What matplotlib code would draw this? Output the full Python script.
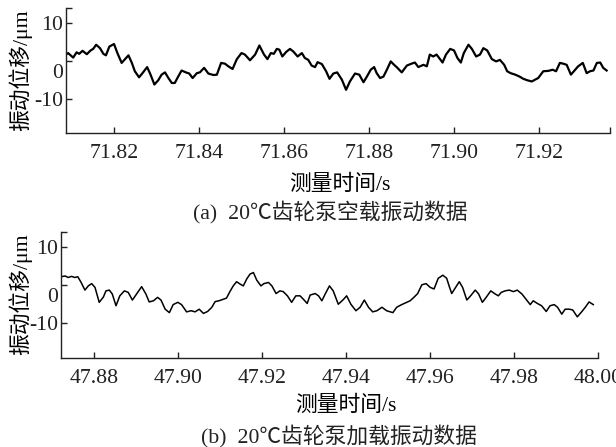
import numpy as np
import matplotlib as mpl
mpl.use('Agg')
import matplotlib.pyplot as plt
from matplotlib.transforms import ScaledTranslation

plt.rcParams['font.family'] = ['Liberation Serif', 'Noto Sans CJK SC']
plt.rcParams['axes.unicode_minus'] = False

# (a) no-load vibration at 20 C
t_a = [71.8086, 71.8091, 71.8103, 71.8111, 71.8117, 71.8125, 71.8135, 71.8144, 71.8150, 71.8157,
       71.8166, 71.8174, 71.8180, 71.8188, 71.8199, 71.8207, 71.8217, 71.8225, 71.8233, 71.8241,
       71.8248, 71.8258, 71.8266, 71.8277, 71.8285, 71.8294, 71.8303, 71.8311, 71.8319, 71.8327,
       71.8335, 71.8342, 71.8350, 71.8358, 71.8368, 71.8376, 71.8384, 71.8394, 71.8401, 71.8411,
       71.8421, 71.8433, 71.8441, 71.8451, 71.8460, 71.8468, 71.8478, 71.8488, 71.8499, 71.8507,
       71.8519, 71.8531, 71.8541, 71.8552, 71.8560, 71.8568, 71.8575, 71.8582, 71.8588,
       71.8595, 71.8604, 71.8613, 71.8621, 71.8631, 71.8641, 71.8648, 71.8656, 71.8664, 71.8672,
       71.8678, 71.8688, 71.8698, 71.8706, 71.8715, 71.8724, 71.8735, 71.8745, 71.8754, 71.8766,
       71.8776, 71.8786, 71.8794, 71.8803, 71.8811, 71.8817, 71.8825, 71.8833, 71.8841, 71.8850,
       71.8858, 71.8864, 71.8876, 71.8888, 71.8899, 71.8907, 71.8915, 71.8927, 71.8935, 71.8942,
       71.8950, 71.8958, 71.8964, 71.8972, 71.8980, 71.8990, 71.8999, 71.9007, 71.9015, 71.9022,
       71.9033, 71.9041, 71.9051, 71.9060, 71.9068, 71.9077, 71.9088, 71.9098, 71.9107, 71.9117,
       71.9124, 71.9132, 71.9143, 71.9153, 71.9162, 71.9172, 71.9182, 71.9190, 71.9197, 71.9209,
       71.9221, 71.9231, 71.9239, 71.9248, 71.9256, 71.9264, 71.9274, 71.9284, 71.9291, 71.9302,
       71.9311, 71.9319, 71.9327, 71.9335, 71.9343, 71.9350, 71.9358]
d_a = [1.7, 2.1, 0.9, 2.3, 1.9, 2.7, 1.8, 2.8, 3.2, 4.3,
       3.4, 1.9, 1.5, 3.8, 4.5, 2.1, -0.5, 0.5, 1.5, -0.5,
       -2.7, -4.3, -3.2, -1.6, -3.6, -6.2, -5.1, -3.6, -3.0, -4.5,
       -5.8, -5.8, -4.1, -2.5, -3.0, -3.3, -4.5, -3.2, -3.0, -1.8,
       -3.3, -3.7, -3.6, -0.5, -0.7, -1.4, -2.1, 0.5, 2.1, 1.7,
       0.2, 1.7, 4.1, 1.7, 0.5, 2.1, 1.9, 3.2, 3.0,
       1.2, 2.4, 3.2, 2.5, 1.2, 2.1, 0.8, 0.3, -1.2, -1.6,
       -0.3, -0.8, -2.7, -4.7, -3.3, -3.0, -4.9, -7.6, -5.4, -3.3,
       -3.6, -5.6, -4.1, -2.3, -1.6, -3.2, -4.5, -4.1, -2.3, -0.1,
       -1.0, -1.6, -3.0, -1.2, -0.7, -0.4, -1.6, -1.0, -1.4, 1.7,
       1.2, 1.7, 0.8, -0.4, 1.7, 3.2, 2.8, 0.8, -0.4, 2.1,
       4.3, 3.2, 1.2, 1.7, 3.4, 2.8, 0.5, -0.1, 0.3, -1.0,
       -2.7, -3.2, -3.6, -4.1, -4.7, -5.1, -5.4, -4.9, -4.5, -2.7,
       -2.6, -2.3, -2.7, -0.5, -0.7, -1.0, -3.6, -2.3, -1.4, -0.5,
       -3.2, -2.7, -2.5, -0.5, -0.4, -1.8, -2.5]

# (b) loaded vibration at 20 C
t_b = [47.8721, 47.8731, 47.8738, 47.8746, 47.8754, 47.8761, 47.8769, 47.8778, 47.8786, 47.8794,
       47.8802, 47.8812, 47.8822, 47.8828, 47.8836, 47.8843, 47.8852, 47.8861, 47.8872, 47.8881,
       47.8891, 47.8901, 47.8913, 47.8923, 47.8931, 47.8941, 47.8951, 47.8959, 47.8969, 47.8979,
       47.8988, 47.8999, 47.9008, 47.9020, 47.9031, 47.9040, 47.9050, 47.9060, 47.9070, 47.9080,
       47.9088, 47.9097, 47.9107, 47.9115, 47.9123, 47.9131, 47.9139, 47.9147, 47.9155, 47.9163,
       47.9171, 47.9179, 47.9187, 47.9197, 47.9204, 47.9215, 47.9223, 47.9233, 47.9242, 47.9250,
       47.9260, 47.9270, 47.9280, 47.9290, 47.9298, 47.9307, 47.9314, 47.9326, 47.9334, 47.9342,
       47.9350, 47.9360, 47.9369, 47.9381, 47.9392, 47.9401, 47.9411, 47.9423, 47.9433, 47.9443,
       47.9453, 47.9463, 47.9473, 47.9485, 47.9496, 47.9511, 47.9520, 47.9532, 47.9544, 47.9552,
       47.9561, 47.9570, 47.9580, 47.9590, 47.9600, 47.9609, 47.9619, 47.9630, 47.9639, 47.9646,
       47.9651, 47.9659, 47.9669, 47.9677, 47.9687, 47.9696, 47.9707, 47.9715, 47.9724, 47.9733,
       47.9744, 47.9753, 47.9762, 47.9769, 47.9778, 47.9788, 47.9798, 47.9807, 47.9818, 47.9828,
       47.9838, 47.9845, 47.9855, 47.9865, 47.9876, 47.9885, 47.9895, 47.9903, 47.9913, 47.9921,
       47.9931, 47.9939, 47.9950, 47.9961, 47.9969, 47.9978, 47.9988]
d_b = [2.2, 2.4, 2.0, 2.3, 2.0, 2.2, 0.7, -1.3, -0.2, 0.4,
       -0.6, -4.5, -3.1, -1.5, -1.3, -2.3, -5.4, -2.8, -1.5, -1.9,
       -3.9, -2.3, -0.4, -2.3, -4.4, -4.1, -3.2, -3.9, -6.3, -7.2,
       -5.1, -4.5, -5.1, -7.0, -6.7, -7.0, -6.3, -7.4, -6.9, -5.8,
       -4.3, -4.1, -3.7, -3.4, -1.7, -0.2, 0.9, 0.3, -0.2, 1.6,
       2.9, 3.3, 1.3, -0.2, 0.4, 0.7, -0.2, -2.2, -1.5, -1.7,
       -2.8, -4.5, -2.8, -2.8, -3.7, -4.8, -2.6, -2.2, -2.8, -4.1,
       -2.3, -0.2, -1.5, -5.0, -3.9, -2.8, -5.0, -6.7, -5.8, -3.9,
       -5.8, -7.0, -6.7, -5.8, -6.7, -7.2, -5.8, -5.1, -4.5, -4.1,
       -3.2, -2.2, 0.1, 0.4, -0.6, -1.0, 1.8, 2.6, 1.8, -0.6,
       -2.2, -0.8, 0.9, -0.6, -3.9, -2.8, -1.3, -2.3, -4.5, -3.2,
       -1.5, -2.2, -2.8, -1.9, -1.5, -1.3, -1.7, -1.3, -2.3, -3.7,
       -5.1, -4.1, -4.8, -5.4, -6.9, -5.4, -5.1, -5.8, -7.6, -6.3,
       -6.3, -6.5, -8.3, -6.9, -5.8, -4.4, -5.1]

xticks_a = [71.82, 71.84, 71.86, 71.88, 71.90, 71.92]
xticks_b = [47.88, 47.90, 47.92, 47.94, 47.96, 47.98, 48.00]
yticks = [-10, 0, 10]
ylim = (-19, 14)
FS = 15.7

fig = plt.figure(figsize=(6.16, 4.47), dpi=100)
ax1 = fig.add_axes([0.1071, 0.7025, 0.8832, 0.2796])
ax2 = fig.add_axes([0.0990, 0.1998, 0.8723, 0.2819])


def style(ax, xticks, xlim, extra_x=None):
    ax.set_xlim(*xlim)
    ax.set_ylim(*ylim)
    ax.set_xticks(xticks)
    ax.set_xticklabels(["%.2f" % v for v in xticks])
    ax.set_yticks(yticks)
    ax.set_yticks([ylim[1]], minor=True)
    if extra_x is not None:
        ax.set_xticks([extra_x], minor=True)
    for s in ('top', 'right'):
        ax.spines[s].set_visible(False)
    for s in ('left', 'bottom'):
        ax.spines[s].set_linewidth(1.0)
        ax.spines[s].set_color('#222222')
    ax.tick_params(which='both', direction='in', length=4, width=1.0,
                   colors='#222222', labelsize=FS, labelcolor='#222222')
    ax.tick_params(axis='x', pad=8)
    ax.tick_params(axis='y', pad=2)
    ax.set_ylabel("振动位移/μm", fontsize=FS)
    # the zero label sits a little below its tick
    fig.canvas.draw()
    for lab in ax.get_yticklabels():
        if lab.get_text() == '0':
            lab.set_transform(lab.get_transform() +
                              ScaledTranslation(0, -7 / 72, fig.dpi_scale_trans))


ax1.plot(t_a, d_a, color='black', lw=1.6)
style(ax1, xticks_a, (71.8086, 71.9366), extra_x=71.9366)
ax1.set_xlabel("测量时间/s", fontsize=FS)
ax1.xaxis.set_label_coords(0.504, -0.33)
ax1.yaxis.set_label_coords(-0.062, 0.5)

ax2.plot(t_b, d_b, color='black', lw=1.1)
style(ax2, xticks_b, (47.8721, 48.00))
ax2.set_xlabel("测量时间/s", fontsize=FS)
ax2.xaxis.set_label_coords(0.53, -0.30)
ax2.yaxis.set_label_coords(-0.054, 0.5)

fig.text(0.536, 0.5235, "(a)  20℃齿轮泵空载振动数据", fontsize=FS,
         ha='center', va='center', color='#222222')
fig.text(0.550, 0.0224, "(b)  20℃齿轮泵加载振动数据", fontsize=FS,
         ha='center', va='center', color='#222222')

fig.savefig("out.png", dpi=100)
